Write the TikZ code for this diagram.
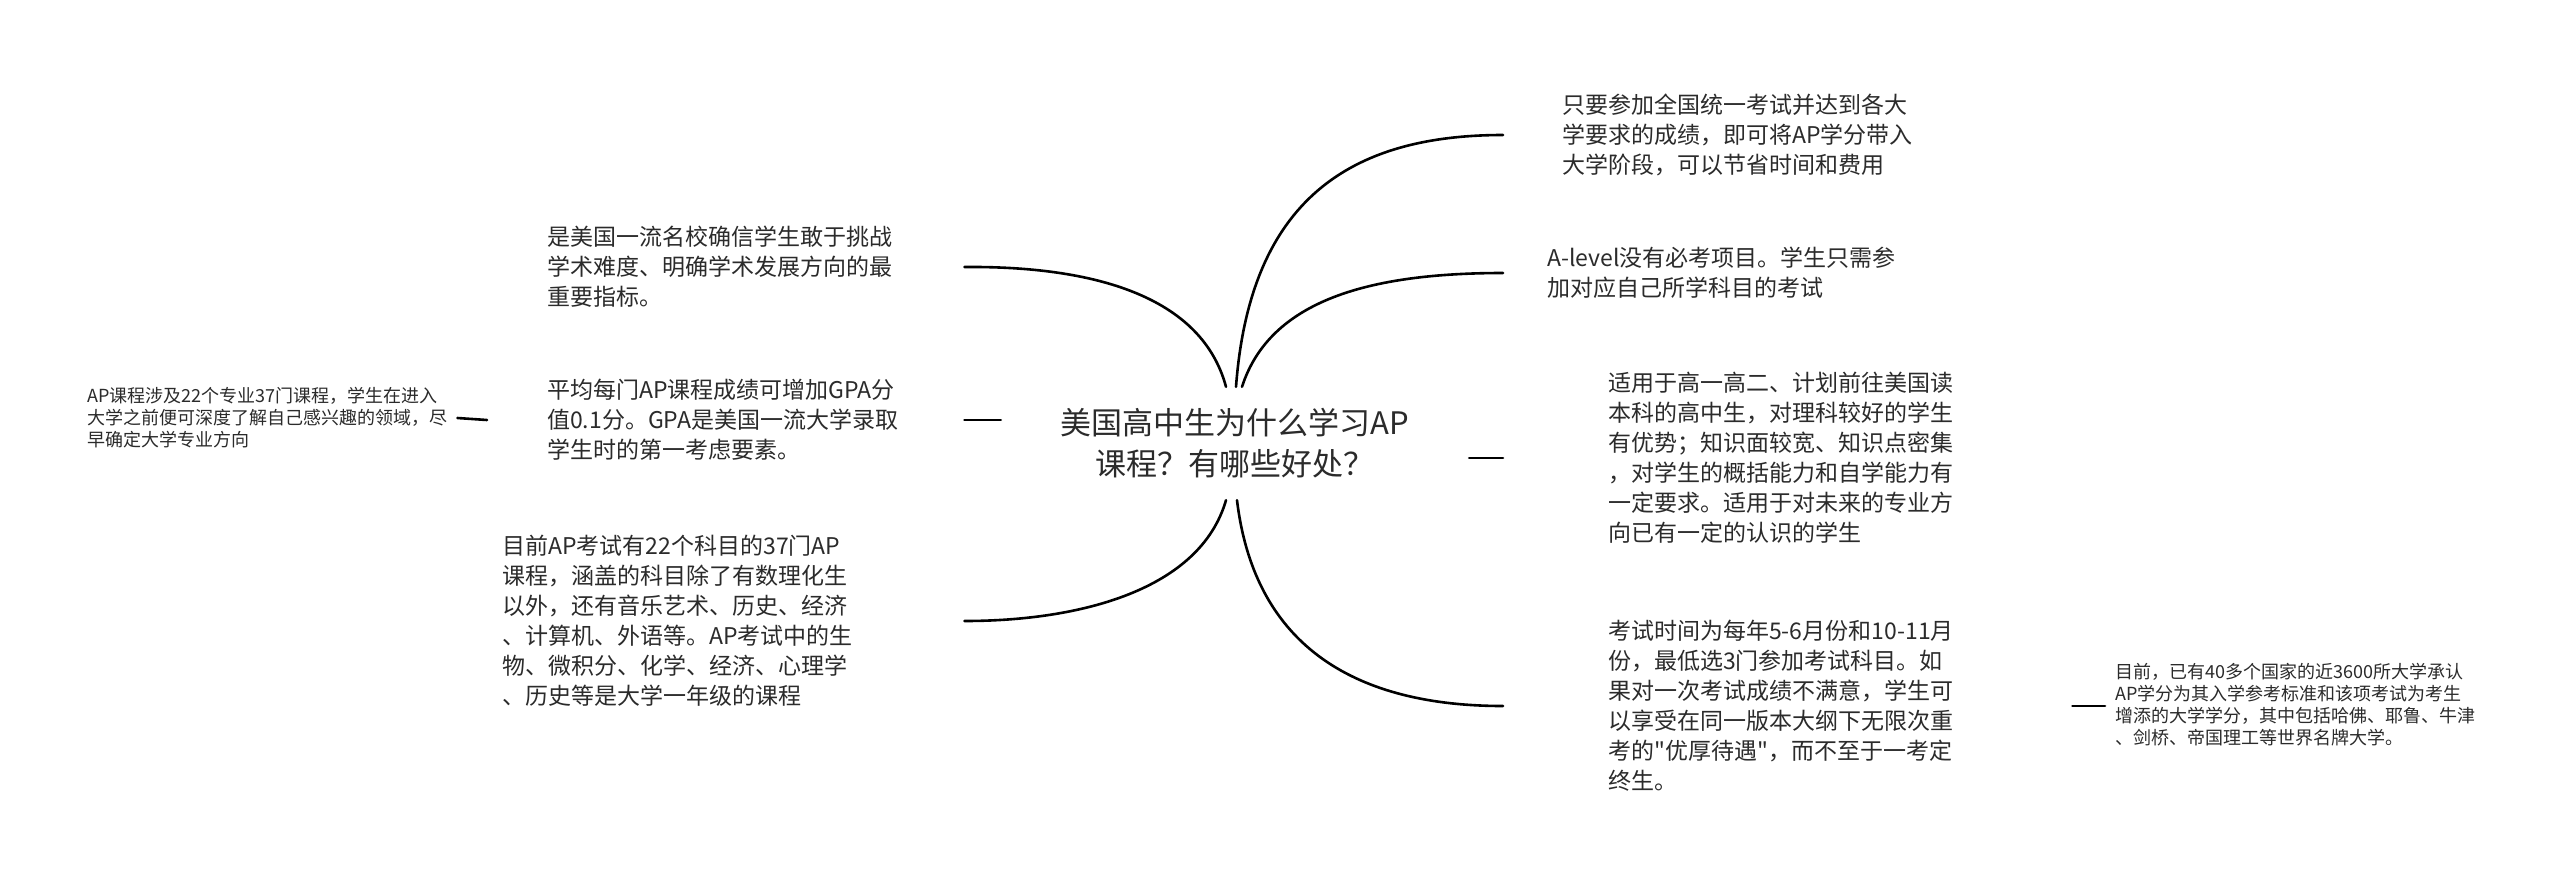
\documentclass[tikz,border=0pt]{standalone}
\usepackage{fontspec}
\setmainfont{Noto Sans CJK SC}
\newfontfamily\plainfont{Noto Sans CJK SC}
\definecolor{txt}{HTML}{2B2B2B}
\begin{document}
\begin{tikzpicture}[x=1pt,y=-1pt,
  conn/.style={line width=2.6pt, draw=black, line cap=round},
  topic/.style={inner sep=0pt, align=center, text=txt, minimum width=468pt, minimum height=113pt, font=\plainfont\fontsize{31}{41}\selectfont},
  midnode/.style={inner sep=0pt, align=left, anchor=west, text=txt, font=\plainfont\fontsize{23}{30}\selectfont, execute at begin node={\exhyphenpenalty=10000\hyphenpenalty=10000}},
  smallnode/.style={inner sep=0pt, align=left, anchor=west, text=txt, font=\plainfont\fontsize{18}{22}\selectfont}]
\useasboundingbox[fill=white] (0,0) rectangle (2560,887);

% central topic
\node[topic] (c) at (1235,443.5) {美国高中生为什么学习AP\\课程？有哪些好处？};

% left side
\node[midnode, text width=417pt] (L1) at (547,267) {是美国一流名校确信学生敢于挑战\\学术难度、明确学术发展方向的最\\重要指标。};
\node[midnode, text width=357pt, inner xsep=60pt] (L2) at (487,420) {平均每门AP课程成绩可增加GPA分\\值0.1分。GPA是美国一流大学录取\\学生时的第一考虑要素。};
\node[midnode, text width=462pt] (L3) at (502,621) {目前AP考试有22个科目的37门AP\\课程，涵盖的科目除了有数理化生\\以外，还有音乐艺术、历史、经济\\、计算机、外语等。AP考试中的生\\物、微积分、化学、经济、心理学\\、历史等是大学一年级的课程};
\node[smallnode, text width=370pt] (FL) at (87,418) {AP课程涉及22个专业37门课程，学生在进入\\大学之前便可深度了解自己感兴趣的领域，尽\\早确定大学专业方向};

% right side
\node[midnode, text width=400pt, inner xsep=59pt] (R1) at (1503,135) {只要参加全国统一考试并达到各大\\学要求的成绩，即可将AP学分带入\\大学阶段，可以节省时间和费用};
\node[midnode, text width=400pt, inner xsep=44pt] (R2) at (1503,273) {A-level没有必考项目。学生只需参\\加对应自己所学科目的考试};
\node[midnode, text width=400pt, inner xsep=105pt] (R3) at (1503,458) {适用于高一高二、计划前往美国读\\本科的高中生，对理科较好的学生\\有优势；知识面较宽、知识点密集\\，对学生的概括能力和自学能力有\\一定要求。适用于对未来的专业方\\向已有一定的认识的学生};
\node[midnode, text width=359pt, inner xsep=105pt] (R4) at (1503,706) {考试时间为每年5-6月份和10-11月\\份，最低选3门参加考试科目。如\\果对一次考试成绩不满意，学生可\\以享受在同一版本大纲下无限次重\\考的"优厚待遇"，而不至于一考定\\终生。};
\node[smallnode, text width=420pt, inner xsep=10pt] (FR) at (2105,705) {目前，已有40多个国家的近3600所大学承认\\AP学分为其入学参考标准和该项考试为考生\\增添的大学学分，其中包括哈佛、耶鲁、牛津\\、剑桥、帝国理工等世界名牌大学。};

% connectors
\draw[conn] ([xshift=-9pt]c.north) .. controls (1200,290) and (1080,266) .. (L1.east);
\draw[conn] (L2.east) -- (L2.east -| c.west);
\draw[conn] ([xshift=-9pt]c.south) .. controls (1200,590) and (1080,621) .. (L3.east);
\draw[conn] (FL.east) -- (L2.west);
\draw[conn] ([xshift=1pt]c.north) .. controls (1250,200) and (1350,135) .. (R1.west);
\draw[conn] ([xshift=7pt]c.north) .. controls (1270,300) and (1370,273) .. (R2.west);
\draw[conn] (R3.west -| c.east) -- (R3.west);
\draw[conn] ([xshift=2pt]c.south) .. controls (1255,650) and (1360,706) .. (R4.west);
\draw[conn] (R4.east) -- (R4.east -| FR.west);
\end{tikzpicture}
\end{document}
